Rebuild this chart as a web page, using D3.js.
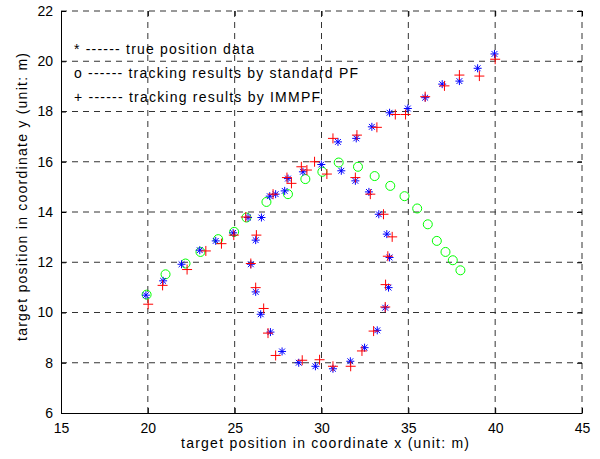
<!DOCTYPE html>
<html>
<head>
<meta charset="utf-8">
<script src="https://cdn.jsdelivr.net/npm/d3@7"></script>
<style>
  body { margin: 0; background: #fff; }
  svg { display: block; font-family: "Liberation Sans", Arial, sans-serif; }
</style>
</head>
<body>
<svg width="600" height="459"></svg>
<script>
// true position data (blue *)
const trueX = [19.89, 20.88, 21.94, 22.99, 23.91, 24.91, 25.77, 27.02, 27.36, 28.07, 28.93, 29.99,
  31.14, 31.95, 32.73, 33.30, 33.76, 33.92, 33.86, 33.67, 33.21, 32.48, 31.66, 30.66, 29.65, 28.69,
  27.73, 27.06, 26.50, 26.21, 25.93, 26.21, 26.54, 27.88, 30.95, 32.00, 32.90, 33.92, 34.97, 35.97,
  36.95, 37.94, 38.99, 39.96];
const trueY = [10.69, 11.26, 11.92, 12.48, 12.85, 13.17, 13.78, 14.63, 14.71, 15.33, 15.60, 15.89,
  15.64, 15.24, 14.80, 13.91, 13.12, 12.19, 10.99, 10.19, 9.29, 8.60, 8.06, 7.76, 7.86, 8.00,
  8.45, 9.22, 9.93, 10.82, 11.92, 12.88, 13.78, 14.84, 16.79, 16.93, 17.39, 17.95, 18.12, 18.55,
  19.09, 19.21, 19.72, 20.29];

// standard PF (green o)
const pfX = [19.93, 21.02, 22.17, 23.03, 24.05, 24.97, 25.68, 26.83, 28.07, 29.07, 30.05, 30.99,
  32.10, 33.06, 33.96, 34.78, 35.51, 36.12, 36.64, 37.14, 37.56, 38.00];
const pfY = [10.71, 11.52, 11.95, 12.41, 12.92, 13.21, 13.78, 14.40, 14.71, 15.31, 15.60, 15.97,
  15.80, 15.43, 15.04, 14.63, 14.14, 13.51, 12.85, 12.41, 12.08, 11.68];

// IMMPF (red +)
const immX = [20.02, 20.85, 22.26, 23.34, 24.24, 24.95, 25.64, 26.25, 25.93, 26.21, 26.67, 26.92,
  27.36, 28.89, 29.89, 30.66, 31.68, 32.33, 33.00, 33.67, 33.69, 33.82, 34.07, 33.57, 32.81, 31.95,
  30.31, 29.60, 27.21, 28.27, 28.01, 28.84, 29.16, 30.66, 32.04, 33.19, 34.25, 34.84, 35.97, 37.08,
  37.94, 39.09, 40.00];
const immY = [10.33, 11.08, 11.71, 12.45, 12.74, 13.08, 13.80, 13.08, 11.95, 10.99, 10.16, 9.18,
  8.29, 8.10, 8.12, 7.86, 7.86, 8.47, 9.26, 10.22, 11.11, 12.24, 13.01, 13.91, 14.71, 15.37,
  15.51, 16.00, 14.71, 15.14, 15.37, 15.80, 15.67, 16.93, 17.06, 17.37, 17.88, 17.88, 18.59, 19.02,
  19.45, 19.41, 20.08];

const xTicks = [15, 20, 25, 30, 35, 40, 45];
const yTicks = [6, 8, 10, 12, 14, 16, 18, 20, 22];
const legendLines = [
  '* ------ true position data',
  'o ------ tracking results by standard PF',
  '+ ------ tracking results by IMMPF'
];
const legendWidths = [180, 284, 246];

const m = { left: 61, top: 11, right: 582, bottom: 413 };
const x = d3.scaleLinear().domain([15, 45]).range([m.left, m.right]);
const y = d3.scaleLinear().domain([6, 22]).range([m.bottom, m.top]);

const svg = d3.select('svg');

// grid
svg.append('g').selectAll('line')
  .data(xTicks.slice(1))
  .enter().append('line')
  .attr('x1', d => x(d)).attr('x2', d => x(d))
  .attr('y1', m.top).attr('y2', m.bottom)
  .attr('stroke', '#333').attr('stroke-dasharray', '6,5');
svg.append('g').selectAll('line')
  .data(yTicks.slice(1))
  .enter().append('line')
  .attr('x1', m.left).attr('x2', m.right)
  .attr('y1', d => y(d)).attr('y2', d => y(d))
  .attr('stroke', '#333').attr('stroke-dasharray', '6,5');

// axes
const xAxis = svg.append('g')
  .attr('transform', `translate(0,${m.bottom})`)
  .call(d3.axisBottom(x).tickValues(xTicks).tickSizeInner(-5).tickSizeOuter(0).tickPadding(10));
const xTop = svg.append('g')
  .attr('transform', `translate(0,${m.top})`)
  .call(d3.axisTop(x).tickValues(xTicks).tickSizeInner(-5).tickSizeOuter(0).tickFormat(''));
const yAxis = svg.append('g')
  .attr('transform', `translate(${m.left},0)`)
  .call(d3.axisLeft(y).tickValues(yTicks).tickSizeInner(-5).tickSizeOuter(0).tickPadding(8));
const yRight = svg.append('g')
  .attr('transform', `translate(${m.right},0)`)
  .call(d3.axisRight(y).tickValues(yTicks).tickSizeInner(-5).tickSizeOuter(0).tickFormat(''));
xTop.select('.domain').remove();
yRight.select('.domain').remove();
[xAxis, yAxis, xTop, yRight].forEach(a => {
  a.selectAll('text').attr('font-size', 14).attr('fill', '#000').attr('font-family', '"Liberation Sans", Arial, sans-serif');
  a.selectAll('line').attr('stroke', '#000');
  a.selectAll('.domain').attr('stroke', '#000');
});

// axis titles
svg.append('text')
  .attr('x', 325).attr('y', 448)
  .attr('text-anchor', 'middle').attr('font-size', 14)
  .attr('textLength', 288).attr('lengthAdjust', 'spacing')
  .text('target position in coordinate x  (unit: m)');
svg.append('text')
  .attr('transform', 'translate(27,197) rotate(-90)')
  .attr('text-anchor', 'middle').attr('font-size', 14)
  .attr('textLength', 288).attr('lengthAdjust', 'spacing')
  .text('target position in coordinate y  (unit: m)');

// green circles
svg.append('g').selectAll('circle')
  .data(pfX.map((d, i) => [d, pfY[i]]))
  .enter().append('circle')
  .attr('cx', d => x(d[0])).attr('cy', d => y(d[1]))
  .attr('r', 4.5)
  .attr('fill', 'none').attr('stroke', '#00ff00');

// blue asterisks
svg.append('g').selectAll('path')
  .data(trueX.map((d, i) => [d, trueY[i]]))
  .enter().append('path')
  .attr('transform', d => `translate(${x(d[0])},${y(d[1])})`)
  .attr('d', 'M-4,0H4M0,-4V4M-2.9,-2.9L2.9,2.9M-2.9,2.9L2.9,-2.9')
  .attr('stroke', '#0000ff').attr('fill', 'none');

// red plus
svg.append('g').selectAll('path')
  .data(immX.map((d, i) => [d, immY[i]]))
  .enter().append('path')
  .attr('transform', d => `translate(${x(d[0])},${y(d[1])})`)
  .attr('d', 'M-5,0H5M0,-5V5')
  .attr('stroke', '#ff0000').attr('fill', 'none');

// legend text
svg.append('g').selectAll('text')
  .data(legendLines)
  .enter().append('text')
  .attr('x', 74).attr('y', (d, i) => 54 + i * 24)
  .attr('font-size', 14)
  .attr('textLength', (d, i) => legendWidths[i]).attr('lengthAdjust', 'spacing')
  .text(d => d);
</script>
</body>
</html>
